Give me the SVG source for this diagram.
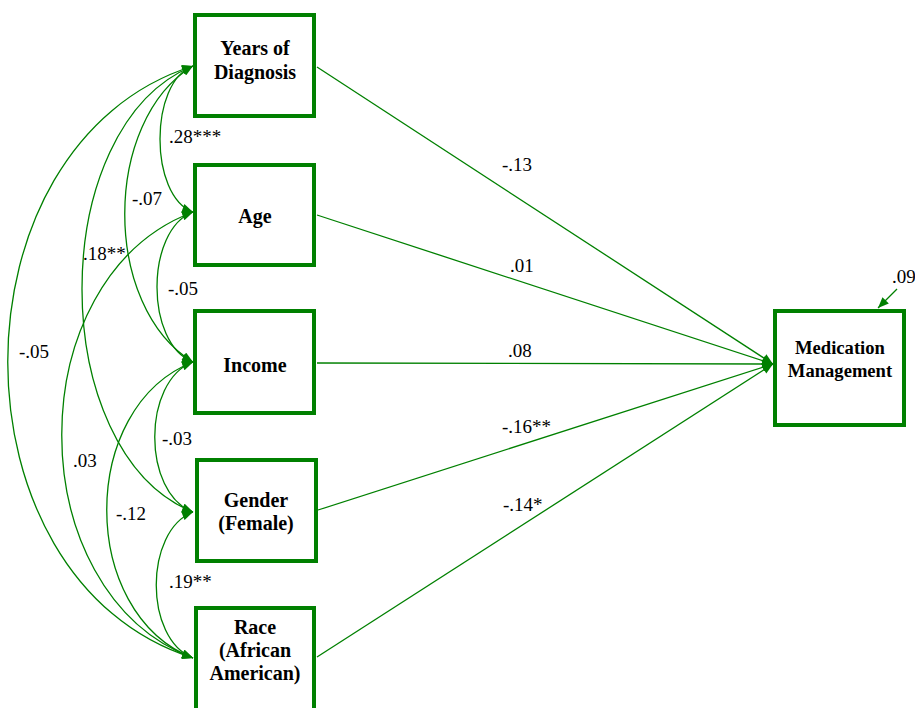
<svg xmlns="http://www.w3.org/2000/svg" width="915" height="708" viewBox="0 0 915 708">
<style>
.box{fill:#fff;stroke:#008000;stroke-width:4}
.nl{font-weight:bold;font-size:20px;text-anchor:middle;fill:#000}
.nl2{font-weight:bold;font-size:18.6px;text-anchor:middle;fill:#000}
.lb{font-size:19px;fill:#000}
.c{fill:none;stroke:#008000;stroke-width:1.3}
.cov{marker-start:url(#ah);marker-end:url(#ah)}
.dir{marker-end:url(#ah)}
</style>
<defs>
<marker id="ah" markerUnits="userSpaceOnUse" viewBox="0 0 12 10" refX="12" refY="5" markerWidth="12" markerHeight="9" orient="auto-start-reverse">
<path d="M0,0 L12,5 L0,10 z" fill="#008000"/>
</marker>
</defs>
<rect width="915" height="708" fill="#fff"/>
<g id="connectors">
<path class="c dir" d="M317,67 L773,364"/>
<path class="c dir" d="M317,215 L773,364"/>
<path class="c dir" d="M317,363 L773,364"/>
<path class="c dir" d="M318,510 L773,364"/>
<path class="c dir" d="M317,657 L773,364"/>
<path class="c dir" d="M897,289 L878,308"/>
<path class="c cov" d="M193,66 C149,82 149,196 193,212"/>
<path class="c cov" d="M193,66 C102,121 102,307 193,362"/>
<path class="c cov" d="M193,66 C45,126 45,452 193,512"/>
<path class="c cov" d="M193,66 C-54,144 -54,580 193,658"/>
<path class="c cov" d="M193,212 C145,230 145,344 193,362"/>
<path class="c cov" d="M193,212 C18,278 18,592 193,658"/>
<path class="c cov" d="M193,362 C142,381 142,493 193,512"/>
<path class="c cov" d="M193,362 C78,407 78,613 193,658"/>
<path class="c cov" d="M193,512 C144,531 144,639 193,658"/>
</g>
<g id="labels" font-family="Liberation Serif, Times New Roman, serif">
<text class="lb" x="169" y="143">.28***</text>
<text class="lb" x="132" y="205">-.07</text>
<text class="lb" x="83" y="260">.18**</text>
<text class="lb" x="19" y="358">-.05</text>
<text class="lb" x="168" y="295">-.05</text>
<text class="lb" x="73" y="467">.03</text>
<text class="lb" x="162" y="445">-.03</text>
<text class="lb" x="116" y="520">-.12</text>
<text class="lb" x="169" y="588">.19**</text>
<text class="lb" x="502" y="171">-.13</text>
<text class="lb" x="510" y="272">.01</text>
<text class="lb" x="508" y="357">.08</text>
<text class="lb" x="502" y="433">-.16**</text>
<text class="lb" x="503" y="511">-.14*</text>
<text class="lb" x="892" y="283">.09</text>
</g>
<g id="years" font-family="Liberation Serif, Times New Roman, serif">
<rect class="box" x="195" y="15" width="119" height="101"/>
<text class="nl" x="255" y="55">Years of</text>
<text class="nl" x="255" y="79">Diagnosis</text>
</g>
<g id="age" font-family="Liberation Serif, Times New Roman, serif">
<rect class="box" x="195" y="165" width="119" height="100"/>
<text class="nl" x="255" y="223">Age</text>
</g>
<g id="income" font-family="Liberation Serif, Times New Roman, serif">
<rect class="box" x="195" y="311" width="119" height="102"/>
<text class="nl" x="255" y="372">Income</text>
</g>
<g id="gender" font-family="Liberation Serif, Times New Roman, serif">
<rect class="box" x="197" y="460" width="119" height="101"/>
<text class="nl" x="256" y="507">Gender</text>
<text class="nl" x="256" y="530">(Female)</text>
</g>
<g id="race" font-family="Liberation Serif, Times New Roman, serif">
<rect class="box" x="196" y="608" width="118" height="110"/>
<text class="nl" x="255" y="634">Race</text>
<text class="nl" x="255" y="657">(African</text>
<text class="nl" x="255" y="680">American)</text>
</g>
<g id="medication" font-family="Liberation Serif, Times New Roman, serif">
<rect class="box" x="775" y="311" width="129" height="114"/>
<text class="nl2" x="840" y="354">Medication</text>
<text class="nl2" x="840" y="377">Management</text>
</g>
</svg>
